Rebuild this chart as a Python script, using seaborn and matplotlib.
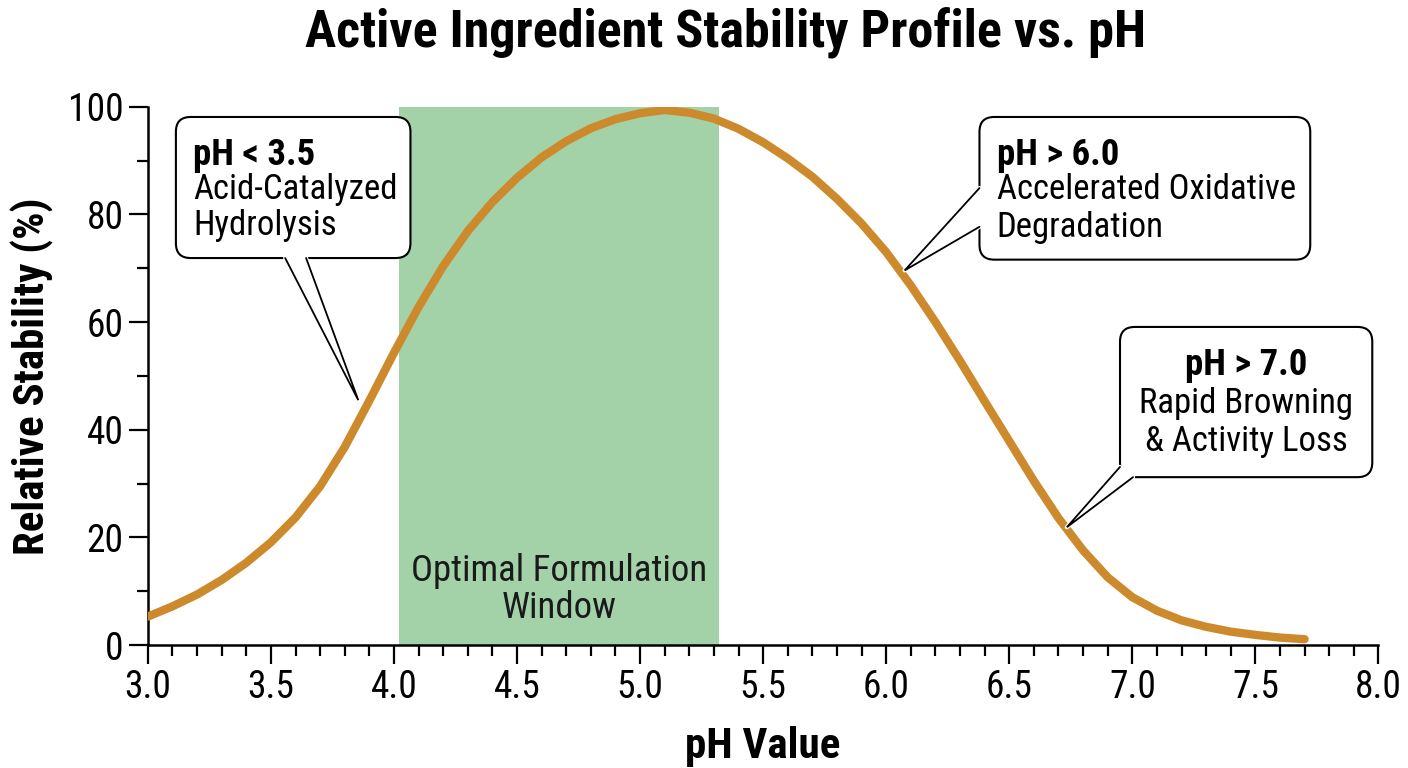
import numpy as np
import pandas as pd
import seaborn as sns
import matplotlib.pyplot as plt
from matplotlib import font_manager as fm
from matplotlib.patches import FancyBboxPatch, Polygon
from matplotlib.ticker import MultipleLocator

# stability curve
ph = [3.0, 3.1, 3.2, 3.3, 3.4, 3.5, 3.6, 3.7, 3.8, 3.9,
      4.0, 4.1, 4.2, 4.3, 4.4, 4.5, 4.6, 4.7, 4.8, 4.9,
      5.0, 5.1, 5.2, 5.3, 5.4, 5.5, 5.6, 5.7, 5.8, 5.9,
      6.0, 6.1, 6.2, 6.3, 6.4, 6.5, 6.6, 6.7, 6.8, 6.9,
      7.0, 7.1, 7.2, 7.3, 7.4, 7.5, 7.6, 7.7]
stability = [5.3, 7.2, 9.4, 12.1, 15.3, 19.1, 23.7, 29.5, 36.8, 45.4,
             54.3, 62.8, 70.4, 76.9, 82.3, 86.8, 90.6, 93.6, 96.0, 97.7,
             98.8, 99.4, 98.9, 97.8, 95.9, 93.4, 90.4, 87.0, 82.9, 78.3,
             73.0, 66.8, 60.0, 52.8, 45.3, 37.9, 30.5, 23.6, 17.6, 12.6,
             8.9, 6.4, 4.6, 3.4, 2.5, 1.9, 1.4, 1.1]

window = (4.02, 5.32)
window_label = 'Optimal Formulation\nWindow'

note_titles = ['pH < 3.5', 'pH > 6.0', 'pH > 7.0']
note_lines = [['Acid-Catalyzed', 'Hydrolysis'],
              ['Accelerated Oxidative', 'Degradation'],
              ['Rapid Browning', '& Activity Loss']]

# callout layout (data coordinates)
boxes = [(3.114, 71.9, 4.067, 98.1), (6.379, 71.6, 7.723, 98.1), (6.95, 31.2, 7.975, 59.1)]
wedges = [[(3.558, 71.9), (3.855, 45.5), (3.643, 71.9)],
          [(6.379, 84.9), (6.075, 69.6), (6.379, 77.7)],
          [(6.95, 33.1), (6.734, 21.9), (7.003, 31.2)]]
text_x = [3.183, 6.449, 7.463]
text_y = [[91.1, 84.6, 77.9], [91.1, 84.6, 77.5], [52.0, 44.8, 37.9]]
text_ha = ['left', 'left', 'center']

df = pd.DataFrame({'pH': ph, 'Stability': stability})


def pick_narrow():
    entries = fm.fontManager.ttflist
    names = {f.name for f in entries}
    for fam in ['Roboto Condensed', 'Liberation Sans Narrow', 'Arial Narrow']:
        if fam in names:
            return fam, 'normal'
    for fam in ['Noto Sans', 'Open Sans', 'DejaVu Sans']:
        st = {str(f.stretch) for f in entries if f.name == fam}
        if 'condensed' in st:
            return fam, 'condensed'
    return 'Liberation Sans', 'normal'


font_name, font_stretch = pick_narrow()

sns.set_theme(style='ticks')
plt.rcParams['font.family'] = [font_name, 'DejaVu Sans']
plt.rcParams['font.stretch'] = font_stretch
for key in ['text.color', 'axes.labelcolor', 'xtick.color', 'ytick.color']:
    plt.rcParams[key] = 'black'

fig, ax = plt.subplots(figsize=(14.08, 7.68), dpi=100)
fig.subplots_adjust(left=0.105, right=0.979, bottom=0.16, top=0.861)

ax.axvspan(window[0], window[1], color='#a3d2a9', lw=0, zorder=0)
ax.text(sum(window) / 2, 10.3, window_label, ha='center', va='center',
        fontsize=26.5, color='#1a1a1a', linespacing=1.05)

sns.lineplot(data=df, x='pH', y='Stability', color='#cc8a2c', linewidth=6,
             solid_capstyle='round', ax=ax, zorder=3)

# ratio of px per x-unit to px per y-unit, keeps the rounded corners circular
aspect = 245.6 / 5.38
for title, lines, box, wedge, tx, tys, ha in zip(note_titles, note_lines, boxes, wedges,
                                                 text_x, text_y, text_ha):
    x0, y0, x1, y1 = box
    ax.add_patch(FancyBboxPatch((x0, y0), x1 - x0, y1 - y0,
                                boxstyle='round,pad=0,rounding_size=0.06',
                                mutation_aspect=aspect, fc='white', ec='black',
                                lw=1.5, zorder=4))
    ax.add_patch(Polygon(wedge, closed=True, fc='white', ec='white', lw=3,
                         joinstyle='round', zorder=4.5))
    ax.plot([wedge[0][0], wedge[1][0], wedge[2][0]], [wedge[0][1], wedge[1][1], wedge[2][1]],
            color='black', lw=1.3, zorder=5, solid_joinstyle='miter')
    ax.text(tx, tys[0], title, ha=ha, va='center', fontsize=26.5, fontweight='bold', zorder=6)
    for line, ty in zip(lines, tys[1:]):
        ax.text(tx, ty, line, ha=ha, va='center', fontsize=25, zorder=6)

ax.set_xlim(3.0, 8.0)
ax.set_ylim(0, 100)
ax.xaxis.set_major_locator(MultipleLocator(0.5))
ax.xaxis.set_minor_locator(MultipleLocator(0.1))
ax.yaxis.set_major_locator(MultipleLocator(20))
ax.yaxis.set_minor_locator(MultipleLocator(10))
ax.xaxis.set_major_formatter(plt.FormatStrFormatter('%.1f'))

ax.tick_params(which='major', length=14, width=1.6, labelsize=27, direction='out')
ax.tick_params(which='minor', length=8, width=1.6, direction='out')
sns.despine(ax=ax)
for s in ['left', 'bottom']:
    ax.spines[s].set_linewidth(1.8)
    ax.spines[s].set_color('black')

ax.set_xlabel('pH Value', fontsize=31, fontweight='bold', labelpad=14)
ax.set_ylabel('Relative Stability (%)', fontsize=31, fontweight='bold', labelpad=10)
fig.suptitle('Active Ingredient Stability Profile vs. pH', fontsize=37.5,
             fontweight='bold', x=0.515, y=0.99)

fig.savefig('out.png', dpi=100)
